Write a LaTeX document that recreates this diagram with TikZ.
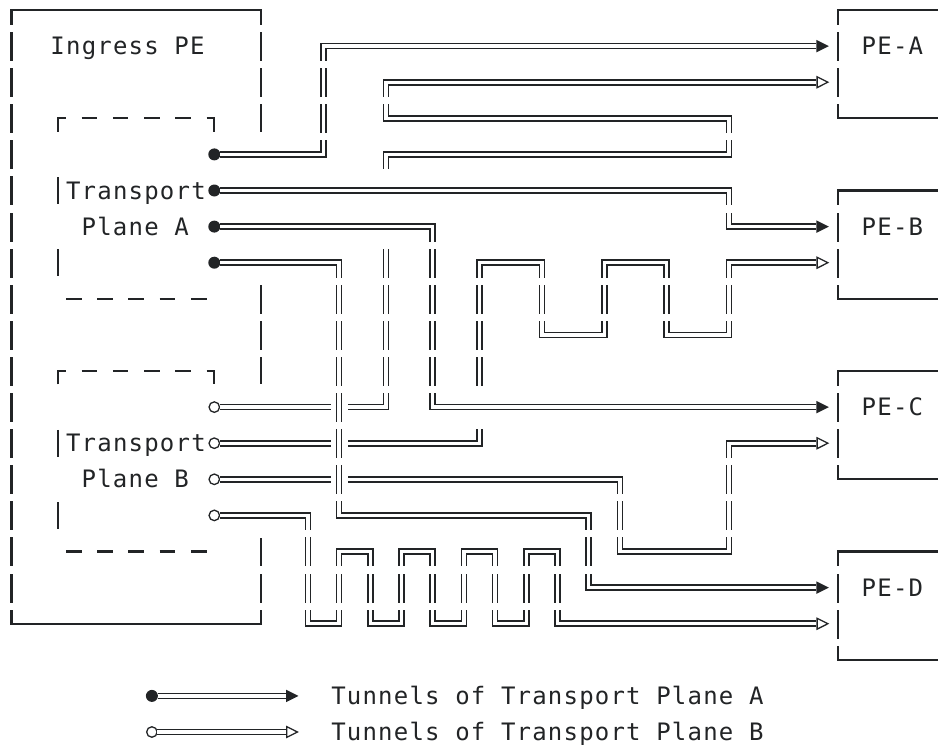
\documentclass[tikz,border=0pt]{standalone}
\usepackage{fontspec}
\newfontfamily\monofont[LetterSpace=5]{DejaVu Sans Mono}
\definecolor{ink}{RGB}{34,36,38}
\tikzset{
  boxline/.style={draw=ink, line width=2.2pt, line join=miter},
  dashline/.style={draw=ink, line width=2.2pt, line join=miter},
  tunnel/.style={draw=ink, double=white, double distance=3.3pt, line width=1.7pt, line join=miter},
  halosmall/.style={draw=white, line width=17pt, line join=miter},
  halobig/.style={draw=white, line width=40pt, line join=miter},
  rowgap/.style={fill=white},
  lbl/.style={anchor=base west, inner sep=0pt, outer sep=0pt, text=ink, font=\monofont\fontsize{24}{36}\selectfont},
  dotA/.style={circle, fill=ink, inner sep=0pt, outer sep=0pt, minimum size=12pt},
  dotB/.style={circle, draw=ink, fill=white, line width=1.3pt, inner sep=0pt, outer sep=0pt, minimum size=10.5pt},
  pebox/.style={draw=ink, line width=2.2pt, rectangle, inner sep=0pt, outer sep=0pt, anchor=north west, minimum width=124.8pt, minimum height=108.3pt},
  headfill/.pic={\fill[ink] (0pt,6.2pt) -- (12.4pt,0pt) -- (0pt,-6.2pt) -- cycle;},
  headopen/.pic={\draw[ink, line width=1.3pt, fill=white, line join=miter] (0.65pt,5.4pt) -- (11.4pt,0pt) -- (0.65pt,-5.4pt) -- cycle;},
}
\begin{document}
\begin{tikzpicture}[x=15.6pt, y=-36.1pt]
\useasboundingbox (-0.737,-0.277) rectangle (59.391,20.360);
\clip (-0.737,-0.277) rectangle (59.391,20.360);

% ---------- Ingress PE box ----------
\draw[boxline] (16,3.37) -- (16,0) -- (0,0) -- (0,17) -- (16,17) -- (16,14.63);
\draw[boxline] (16,7.63) -- (16,10.37);

% ---------- dashed transport plane boxes ----------
\foreach \o in {0,7} {
  \draw[dashline] (3,3.37+\o) -- (3,3+\o) -- (3.5,3+\o);
  \draw[dashline] (12.5,3+\o) -- (13,3+\o) -- (13,3.37+\o);
  \foreach \c in {5,7,9,11} { \draw[dashline] (\c-0.5,3+\o) -- (\c+0.5,3+\o); }
  \draw[dashline] (3,4.63+\o) -- (3,5.37+\o);
  \draw[dashline] (3,6.63+\o) -- (3,7.37+\o);
  \foreach \c in {4,6,8,10,12} { \draw[dashline] (\c-0.5,8+\o) -- (\c+0.5,8+\o); }
}

% ---------- egress PE boxes ----------
\node[pebox] (peA) at (53,0) {};
\node[pebox] (peB) at (53,5) {};
\node[pebox] (peC) at (53,10) {};
\node[pebox] (peD) at (53,15) {};

% ---------- tunnel end points ----------
\coordinate (tA1) at (51.6,1);
\coordinate (tB1) at (51.6,2);
\coordinate (tA2) at (51.6,6);
\coordinate (tB2) at (51.6,7);
\coordinate (tA3) at (51.6,11);
\coordinate (tB3) at (51.6,12);
\coordinate (tA4) at (51.6,16);
\coordinate (tB4) at (51.6,17);
\node[dotA] (bA1) at (13,4) {};
\node[dotA] (bA2) at (13,5) {};
\node[dotA] (bA3) at (13,6) {};
\node[dotA] (bA4) at (13,7) {};
\node[dotB] (bB1) at (13,11) {};
\node[dotB] (bB2) at (13,12) {};
\node[dotB] (bB3) at (13,13) {};
\node[dotB] (bB4) at (13,14) {};

% ---------- tunnel routes ----------
\def\tunAone{(bA1) -- (20,4) -- (20,1) -- (tA1)}
\def\tunAtwo{(bA2) -- (46,5) -- (46,6) -- (tA2)}
\def\tunAthree{(bA3) -- (27,6) -- (27,11) -- (tA3)}
\def\tunAfour{(bA4) -- (21,7) -- (21,14) -- (37,14) -- (37,16) -- (tA4)}
\def\tunBone{(bB1) -- (24,11) -- (24,4) -- (46,4) -- (46,3) -- (24,3) -- (24,2) -- (tB1)}
\def\tunBtwo{(bB2) -- (30,12) -- (30,7) -- (34,7) -- (34,9) -- (38,9) -- (38,7) -- (42,7) -- (42,9) -- (46,9) -- (46,7) -- (tB2)}
\def\tunBthree{(bB3) -- (39,13) -- (39,15) -- (46,15) -- (46,12) -- (tB3)}
\def\tunBfour{(bB4) -- (19,14) -- (19,17) -- (21,17) -- (21,15) -- (23,15) -- (23,17) -- (25,17) -- (25,15) -- (27,15) -- (27,17) -- (29,17) -- (29,15) -- (31,15) -- (31,17) -- (33,17) -- (33,15) -- (35,15) -- (35,17) -- (tB4)}

\draw[tunnel] \tunBone;
\draw[tunnel] \tunBtwo;
\draw[tunnel] \tunBthree;
\draw[tunnel] \tunBfour;
\draw[tunnel] \tunAone;
\draw[halobig] \tunAtwo;
\draw[tunnel] \tunAtwo;
\draw[halobig] \tunAthree;
\draw[tunnel] \tunAthree;
\draw[halosmall] \tunAfour;
\draw[tunnel] \tunAfour;

% thin breaks between text rows, as in the character-cell original
\foreach \r in {0,...,18} { \fill[rowgap] (-1,\r+0.415) rectangle (60,\r+0.61); }

\foreach \t in {tA1,tA2,tA3,tA4} { \pic at (\t) {headfill}; }
\foreach \t in {tB1,tB2,tB3,tB4} { \pic at (\t) {headopen}; }

% ---------- labels ----------
\node[lbl] (ingress) at (2.5,1.24) {Ingress PE};
\node[lbl] (planeAa) at (3.5,5.24) {Transport};
\node[lbl] (planeAb) at (4.5,6.24) {Plane A};
\node[lbl] (planeBa) at (3.5,12.24) {Transport};
\node[lbl] (planeBb) at (4.5,13.24) {Plane B};
\node[lbl] (peAt) at (54.5,1.24) {PE-A};
\node[lbl] (peBt) at (54.5,6.24) {PE-B};
\node[lbl] (peCt) at (54.5,11.24) {PE-C};
\node[lbl] (peDt) at (54.5,16.24) {PE-D};

% ---------- legend ----------
\node[dotA] (lgA) at (9,19) {};
\node[dotB] (lgB) at (9,20) {};
\coordinate (lgAt) at (17.6,19);
\coordinate (lgBt) at (17.6,20);
\draw[tunnel] (lgA) -- (lgAt);
\draw[tunnel] (lgB) -- (lgBt);
\pic at (lgAt) {headfill};
\pic at (lgBt) {headopen};
\node[lbl] (lgAtext) at (20.5,19.24) {Tunnels of Transport Plane A};
\node[lbl] (lgBtext) at (20.5,20.24) {Tunnels of Transport Plane B};
\end{tikzpicture}
\end{document}
